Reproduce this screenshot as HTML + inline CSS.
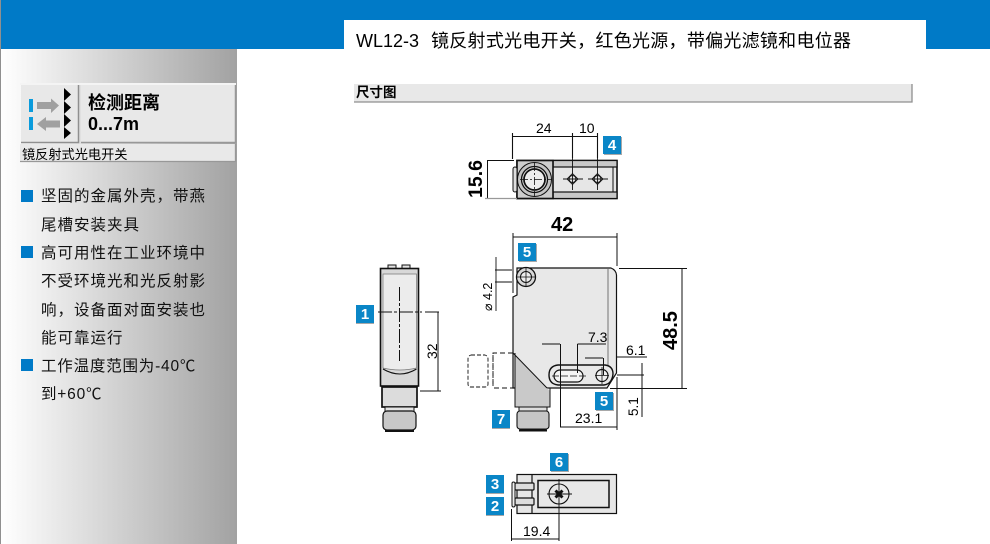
<!DOCTYPE html>
<html><head><meta charset="utf-8"><style>
html,body{margin:0;padding:0;background:#fff}
svg{display:block}
text{font-family:"Liberation Sans","Noto Sans CJK SC",sans-serif;fill:#000}
.d{font-size:14px}
.b{font-size:15.5px;letter-spacing:1px;fill:#111}
.t{fill:#fff;font-size:15px;font-weight:bold;text-anchor:middle}
</style></head><body>
<svg width="990" height="544" viewBox="0 0 990 544" xmlns="http://www.w3.org/2000/svg">
<defs>
<linearGradient id="g" x1="0" x2="1" y1="0" y2="0"><stop offset="0" stop-color="#fff"/><stop offset="1" stop-color="#a2a2a2"/></linearGradient>
</defs>
<rect width="990" height="544" fill="#fff"/>
<rect x="1" y="0" width="989" height="49" fill="#007ac7"/>
<rect x="0" y="0" width="1" height="544" fill="#909090"/>
<rect x="1" y="49" width="236" height="495" fill="url(#g)"/>
<rect x="344" y="20" width="582" height="29" fill="#fff"/>
<text x="356" y="47" font-size="18">WL12-3</text>
<text x="431" y="47" font-size="18" textLength="420">镜反射式光电开关，红色光源，带偏光滤镜和电位器</text>

<!-- sensor box -->
<rect x="20" y="83" width="216" height="2" fill="#f4f4f4"/>
<rect x="21" y="85" width="57" height="58" fill="#e8e8e8"/>
<path d="M21 142.500H78.500V85" fill="none" stroke="#8f8f8f" stroke-width="1.500"/>
<rect x="81" y="85" width="154" height="58" fill="#e8e8e8"/>
<path d="M81 142.500H235.500V85" fill="none" stroke="#989898" stroke-width="1.500"/>
<rect x="29" y="99" width="4" height="13" fill="#0a9bdc"/>
<rect x="29" y="117" width="4" height="13" fill="#0a9bdc"/>
<path d="M37 102H51V98.500L59 105.500L51 113V109H37Z" fill="#a0a0a0"/>
<path d="M60 120.500H46V117L37 124L46 131V127.500H60Z" fill="#a0a0a0"/>
<path d="M64 88L71 94.500L64 101L71 107.500L64 114L71 120.500L64 127L71 133L64 139Z" fill="#000"/>
<text x="88" y="109" font-size="18" font-weight="bold">检测距离</text>
<text x="88" y="130" font-size="18" font-weight="bold">0...7m</text>
<rect x="20" y="144" width="216" height="18" fill="#e9e9e9"/>
<path d="M20 161.500H235.500V144" fill="none" stroke="#989898" stroke-width="1.300"/>
<text x="22" y="159" font-size="13.200">镜反射式光电开关</text>

<!-- bullets -->
<g fill="#007ac7">
<rect x="21" y="190" width="12" height="12"/>
<rect x="21" y="246" width="12" height="12"/>
<rect x="21" y="359" width="12" height="12"/>
</g>
<text class="b" x="41" y="201">坚固的金属外壳，带燕</text>
<text class="b" x="41" y="230">尾槽安装夹具</text>
<text class="b" x="41" y="258">高可用性在工业环境中</text>
<text class="b" x="41" y="286">不受环境光和光反射影</text>
<text class="b" x="41" y="315">响，设备面对面安装也</text>
<text class="b" x="41" y="343">能可靠运行</text>
<text class="b" x="41" y="371" style="letter-spacing:.8px">工作温度范围为-40℃</text>
<text class="b" x="41" y="399" style="letter-spacing:.8px">到+60℃</text>

<!-- section bar -->
<rect x="354" y="84" width="558" height="18" fill="#e8e8e8"/>
<path d="M354 102H912V84" fill="none" stroke="#8f8f8f" stroke-width="1.300"/>
<text x="356" y="97" font-size="13.500" font-weight="bold">尺寸图</text>

<!-- TOP VIEW -->
<g fill="none" stroke="#111" stroke-width="1">
<rect x="517" y="160.500" width="100" height="38" fill="#e6e6e6" stroke-width="1.600"/>
<rect x="553" y="160.500" width="64" height="6.500" fill="#c8c8c8" stroke-width="1.200"/>
<rect x="553" y="192" width="64" height="6.500" fill="#c8c8c8" stroke-width="1.200"/>
<path d="M613 167V192" />
<rect x="517" y="160.500" width="36" height="38" fill="#cdcdcd" stroke-width="1.600"/>
<rect x="513" y="167" width="4" height="25" rx="2" fill="#ddd"/>
<circle cx="534.500" cy="179.500" r="17" fill="#c4c4c4"/>
<circle cx="534.500" cy="179.500" r="13" fill="#d8d8d8" stroke-width="1.300"/>
<circle cx="534.500" cy="179.500" r="10.500" fill="#eee" stroke-width="1.700"/>
<path d="M520 179.500H552M534.500 163V196" stroke-dasharray="8 2 2 2" stroke-width=".8"/>
<circle cx="572.500" cy="179" r="3.500"/><circle cx="597.500" cy="179" r="3.500"/>
<path d="M572.500 173.500L578 179L572.500 184.500L567 179Z" stroke-width=".8"/>
<path d="M597.500 173.500L603 179L597.500 184.500L592 179Z" stroke-width=".8"/>
<path d="M572.500 158V190M563 179H583M597.500 158V190M588 179H608" stroke-width=".9"/>
<!-- dims -->
<path d="M512.500 133V159M572.500 133V158M597.500 133V158M512 136.500H598" stroke-width="1.100"/>
<path d="M487 160.500H514M487.500 161V198"/>
</g>
<path d="M485 198.500H517" stroke="#999" stroke-width="1.300"/>
<text class="d" x="536" y="133">24</text>
<text class="d" x="579" y="133">10</text>
<text x="482" y="198" font-size="19.500" font-weight="bold" transform="rotate(-90 482 198)">15.6</text>
<text x="551" y="231" font-size="20" font-weight="bold">42</text>

<!-- SIDE VIEW -->
<g fill="none" stroke="#111" stroke-width="1.300">
<rect x="388" y="265" width="8" height="4" fill="#e4e4e4" stroke-width="1"/>
<rect x="402" y="265" width="8" height="4" fill="#e4e4e4" stroke-width="1"/>
<rect x="380.500" y="268.500" width="38" height="117.500" fill="#d8d8d8" stroke-width="1.600"/>
<path d="M383 274H416.500V368Q400 372 383 368Z" fill="#ececec" stroke="#777" stroke-width=".7"/>
<path d="M383 369Q400 379 416.500 369" stroke-width="1.100"/>
<path d="M386 387L388 390H412L414 387" stroke-width="1"/>
<rect x="382" y="387" width="35" height="20" fill="#dcdcdc" stroke-width="1.700"/>
<rect x="385" y="407" width="29" height="5" fill="#e4e4e4" stroke-width="1"/>
<rect x="383" y="411" width="33" height="19" rx="4" fill="#c8c8c8" stroke-width="1.200"/>
<path d="M385 431H414" stroke-width="2"/>
<path d="M399.500 287V361" stroke-width="1" stroke-dasharray="14 2 3 2"/>
<path d="M378 312H422M425 312H441" stroke-width="1" stroke-dasharray="14 2 3 2"/>
<path d="M420 391H441M438 312.500V391" stroke-width="1"/>
</g>
<text x="437" y="359" font-size="14" transform="rotate(-90 437 359)">32</text>

<!-- FRONT VIEW -->
<g fill="none" stroke="#111" stroke-width="1">
<path d="M513 297L517 295V268H611Q616 270 616.500 275V373L607 388H513Z" fill="#e8e8e8" stroke-width="1.200"/>
<path d="M608 269V366" stroke="#555" stroke-width=".8"/>
<path d="M513 353L547 388L550 391V407H515V353Z" fill="#c9c9c9" stroke="none"/>
<path d="M513 353L547 388M550 388V407H515V353" stroke-width="1"/>
<rect x="517" y="411" width="32" height="18" rx="3" fill="#c6c6c6" stroke-width="1.100"/>
<rect x="519" y="407" width="28" height="4" fill="#ddd"/>
<path d="M519 430.500H547" stroke-width="2"/>
<path d="M513 353H493V388H514" stroke-dasharray="5 3" stroke-width=".9"/>
<path d="M493 355V387" stroke-dasharray="5 3" stroke-width=".9"/>
<path d="M471 355H485Q488 356 488 359V384Q488 387 485 387H471Q468 387 468 384V359Q468 356 471 355Z" stroke-dasharray="4 2" stroke-width=".9"/>
<circle cx="526" cy="277" r="9.500" fill="#d8d8d8" stroke-width="1.300"/>
<circle cx="526" cy="277" r="5.500" fill="#eee"/>
<path d="M516 277H536M526 267V287" stroke-width=".8"/>
<path d="M558 365H605Q613 366 613 374Q612 384 604 385H558Q549 384 549 375Q549 366 558 365Z" fill="#e8e8e8" stroke-width="1.400"/>
<rect x="554" y="370" width="29" height="12" rx="6" fill="#f4f4f4" stroke-width="1.200"/>
<path d="M552 376H588" stroke-dasharray="7 2" stroke-width=".8"/>
<circle cx="602" cy="375.500" r="6" fill="#eee" stroke-width="1.200"/>
<path d="M595 375.500H609M602 367V384" stroke-width=".8"/>
<!-- dims -->
<path d="M513 233V293M617 233V266M513 237H617"/>
<path d="M619 268.500H687M610 388.500H687M682 269V388"/>
<path d="M496 257V311M495 270H512M495 282H512" stroke-width=".9"/>
<path d="M542 344H560M560.500 344V427M577.500 344H606M577.500 344V373M585 358H603M603.500 358V375"/>
<path d="M617 357H647M617 375H644M642 363V417"/>
<path d="M617 377V430M560 427H617"/>
</g>
<text x="492" y="311" font-size="12.500" transform="rotate(-90 492 311)">⌀ 4.2</text>
<text x="677" y="350" font-size="20" font-weight="bold" transform="rotate(-90 677 350)">48.5</text>
<text class="d" x="588" y="342">7.3</text>
<text class="d" x="626" y="355">6.1</text>
<text x="638" y="416" font-size="13.500" transform="rotate(-90 638 416)">5.1</text>
<text class="d" x="575" y="423">23.1</text>

<!-- BOTTOM VIEW -->
<g fill="none" stroke="#111" stroke-width="1">
<rect x="517" y="474.500" width="99.500" height="39" fill="#e6e6e6" stroke-width="1.200"/>
<path d="M532 474.500V513.500" stroke-width="1.200"/>
<rect x="538" y="480.500" width="71" height="27" fill="#e8e8e8" stroke-width="1.500"/>
<rect x="515" y="483" width="19" height="7" rx="1" fill="#ddd" stroke-width="1.200"/>
<rect x="515" y="498" width="19" height="7" rx="1" fill="#ddd" stroke-width="1.200"/>
<rect x="512" y="482" width="3" height="25" rx="1.500" fill="#eee"/>
<circle cx="559" cy="494" r="10" stroke-width="1.100"/>
<path d="M547 494H572M559 479V523" stroke-width=".9"/>
<path d="M555.500 490.500L562.500 497.500M562.500 490.500L555.500 497.500" stroke-width="3"/>
<path d="M511.500 509V541M559 514V541M512 539H559"/>
</g>
<text class="d" x="523" y="536">19.4</text>

<!-- tags -->
<g fill="#a8a8a8">
<rect x="604" y="137" width="18" height="18"/>
<rect x="519" y="244" width="18" height="18"/>
<rect x="356" y="306" width="18" height="18"/>
<rect x="596" y="393" width="18" height="18"/>
<rect x="492" y="411" width="18" height="18"/>
<rect x="551" y="454" width="18" height="18"/>
<rect x="486" y="476" width="18" height="18"/>
<rect x="486" y="498" width="18" height="18"/>
</g>
<g fill="#0a86c7">
<rect x="603" y="136" width="18" height="18"/>
<rect x="518" y="243" width="18" height="18"/>
<rect x="356" y="305" width="18" height="18"/>
<rect x="595" y="392" width="18" height="18"/>
<rect x="492" y="410" width="18" height="18"/>
<rect x="550" y="453" width="18" height="18"/>
<rect x="486" y="475" width="18" height="18"/>
<rect x="486" y="497" width="18" height="18"/>
</g>
<text class="t" x="612" y="150">4</text>
<text class="t" x="527" y="257">5</text>
<text class="t" x="365" y="319">1</text>
<text class="t" x="604" y="406">5</text>
<text class="t" x="501" y="424">7</text>
<text class="t" x="559" y="467">6</text>
<text class="t" x="495" y="489">3</text>
<text class="t" x="495" y="511">2</text>
</svg>
</body></html>
